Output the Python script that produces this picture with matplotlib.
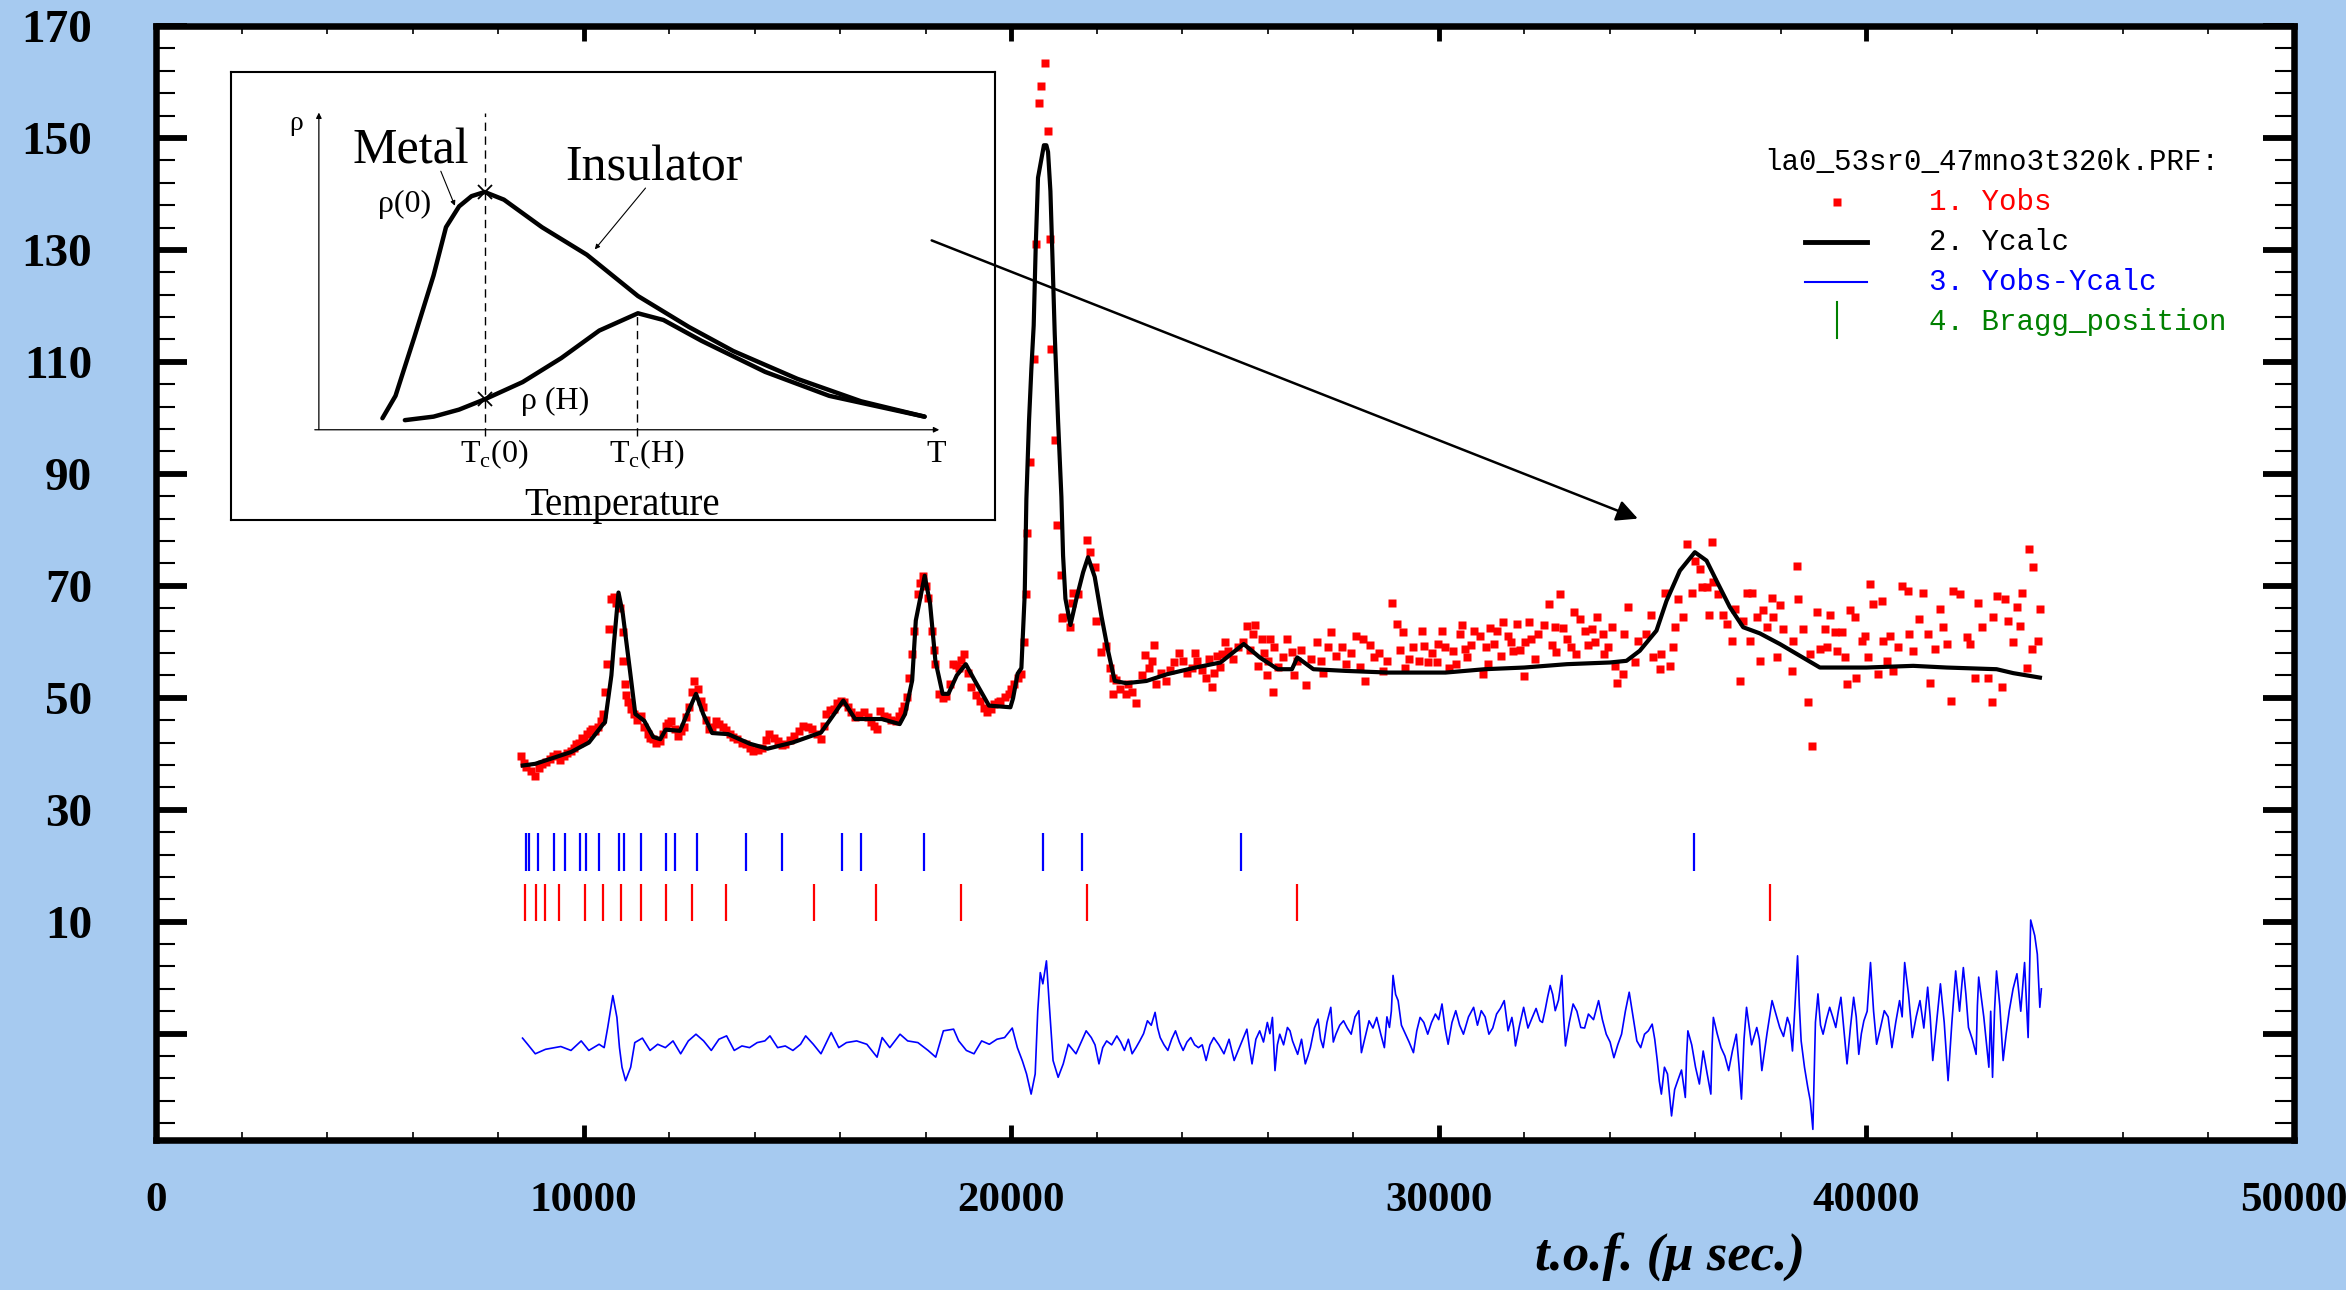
import matplotlib.pyplot as plt
from matplotlib.lines import Line2D

plt.rcParams['font.family'] = ['Liberation Serif', 'DejaVu Serif']
plt.rcParams['mathtext.fontset'] = 'custom'
plt.rcParams['mathtext.rm'] = 'Liberation Serif'

W, H, DPI = 2346, 1290, 100
BG = '#A6CAF0'

# ---- observed points (t.o.f., counts) ----
obs_tof = [8536, 8662, 8871, 9038, 9205, 9372, 9539, 9706, 9831, 9957, 10082, 10207,
           10333, 10458, 10500, 10541, 10583, 10642, 10700, 10917, 10930, 10959, 11043,
           11168, 11335, 11502, 11627, 11794, 11920, 12045, 12212, 12338, 12463, 12588,
           12672, 12797, 12923, 13090, 13257, 13424, 13591, 13800, 13967, 14176, 14343,
           14552, 14719, 14928, 15137, 15346, 15554, 15680, 15847, 16014, 16181, 16348,
           16557, 16724, 16850, 16933, 17101, 17309, 17435, 17560, 17684, 17727, 17810,
           17936, 18061, 18145, 18228, 18311, 18480, 18646, 18771, 18897, 19064, 19273,
           19440, 19607, 19733, 19941, 20069, 20236, 20292, 20339, 20379, 20433, 20526,
           20573, 20650, 20706, 20799, 20862, 20896, 20940, 21018, 21080, 21158, 21197,
           21219, 21386, 21420, 21452, 21563, 21762, 21845, 21970, 21990, 22096, 22221,
           22305, 22372, 22388, 22460, 22681, 22723, 22929, 23123, 23224, 23349, 23391,
           23630, 23809, 24014, 24226, 24352, 24561, 24686, 24811, 24937, 25062, 25312,
           25521, 25647, 25772, 25856, 25981, 26064, 26120, 26148, 26357, 26566, 26691,
           26900, 27150, 27234, 27485, 27736, 27819, 28069, 28237, 28279, 28487, 28697,
           28905, 29031, 29156, 29198, 29406, 29532, 29657, 29740, 29950, 29991, 30075,
           30242, 30326, 30493, 30618, 30660, 30827, 30952, 31036, 31161, 31287, 31370,
           31496, 31621, 31746, 31830, 31997, 32010, 32164, 32331, 32582, 32707, 32749,
           32833, 33000, 33168, 33208, 33416, 33582, 33709, 33835, 33860, 34039, 34117,
           34156, 34312, 34330, 34429, 34585, 34662, 34857, 34974, 35013, 35169, 35208,
           35286, 35403, 35481, 35520, 35598, 35715, 35793, 35910, 35988, 36105, 36144,
           36261, 36315, 36378, 36417, 36534, 36651, 36729, 36846, 36924, 37041, 37119,
           37197, 37275, 37313, 37430, 37508, 37586, 37664, 37781, 37820, 37898, 37976,
           38054, 38249, 38288, 38366, 38405, 38522, 38623, 38678, 38717, 38834, 38912,
           39029, 39068, 39146, 39263, 39302, 39419, 39497, 39536, 39614, 39731, 39750,
           39887, 39964, 40042, 40081, 40159, 40276, 40354, 40393, 40471, 40549, 40627,
           40744, 40822, 40978, 40990, 41095, 41235, 41329, 41446, 41485, 41602, 41719,
           41797, 41875, 41969, 42031, 42187, 42343, 42421, 42538, 42616, 42694, 42850,
           42928, 42967, 43044, 43161, 43239, 43317, 43434, 43512, 43590, 43629, 43746,
           43809, 43863, 43902, 44019, 44058]
obs_y = [39.6, 37.6, 36.0, 38.1, 39.0, 39.9, 39.6, 40.5, 41.7, 42.9, 43.5, 44.4,
         44.8, 47.1, 51.0, 56.0, 62.3, 67.6, 68.0, 61.7, 56.6, 52.4, 49.2,
         47.1, 46.8, 43.5, 42.6, 42.3, 45.0, 45.9, 43.2, 44.7, 48.3, 53.0,
         51.6, 48.3, 44.4, 45.9, 44.7, 43.5, 42.6, 41.7, 40.5, 41.1, 43.5,
         42.3, 41.7, 43.2, 45.0, 44.4, 42.6, 47.1, 48.0, 49.5, 48.3, 46.5,
         47.4, 45.6, 44.4, 47.7, 46.5, 45.9, 47.7, 50.1, 57.8, 62.0, 68.5,
         71.8, 67.9, 62.0, 56.0, 50.7, 50.4, 56.0, 55.4, 57.8, 51.9, 49.5,
         47.4, 48.9, 49.5, 50.7, 52.4, 54.2, 60.0, 68.5, 79.5, 92.1, 110.5,
         131.1, 156.2, 159.3, 163.4, 151.2, 132.0, 112.3, 96.0, 80.9, 72.0, 64.2,
         64.4, 62.6, 67.0, 68.8, 68.5, 78.1, 76.0, 73.3, 63.8, 58.1, 59.3,
         55.4, 50.7, 53.6, 53.2, 50.7, 52.4, 49.1, 57.6, 55.4, 59.5, 52.4,
         53.0, 56.3, 56.6, 55.4, 56.6, 53.6, 51.9, 57.5, 57.8, 58.4, 59.0,
         62.9, 61.4, 55.7, 60.5, 54.0, 60.5, 51.0, 59.0, 57.2, 58.1, 56.6,
         52.2, 59.9, 56.6, 61.7, 59.0, 56.0, 61.1, 60.5, 53.0, 57.2, 54.8,
         67.0, 63.2, 61.7, 55.4, 59.0, 56.6, 59.3, 56.3, 56.3, 59.6, 62.0,
         55.4, 58.4, 61.4, 58.7, 57.2, 62.0, 61.1, 54.2, 56.0, 59.6, 62.0,
         63.5, 61.1, 58.4, 63.2, 53.9, 59.9, 60.5, 61.4, 66.8, 62.6, 58.1,
         68.5, 60.5, 65.3, 57.8, 62.0, 62.3, 64.4, 61.4, 57.8, 62.6, 55.7,
         52.7, 54.2, 61.4, 66.2, 56.3, 60.2, 61.4, 64.7, 57.2, 55.1, 57.8,
         68.8, 55.7, 59.0, 62.6, 67.6, 64.4, 77.5, 68.8, 74.5, 73.0, 69.7,
         69.7, 64.7, 77.8, 70.6, 68.5, 64.7, 63.2, 60.2, 65.9, 53.0, 63.8,
         68.8, 60.2, 68.8, 64.4, 56.6, 65.6, 62.6, 67.9, 64.4, 57.2, 66.5,
         62.3, 54.8, 60.2, 73.6, 67.6, 62.3, 49.2, 57.8, 41.4, 65.3, 58.7,
         62.3, 59.0, 64.7, 61.7, 58.4, 61.7, 57.2, 52.4, 65.6, 64.4, 53.6,
         60.2, 61.1, 57.2, 70.3, 66.7, 54.2, 67.3, 60.2, 56.6, 61.1, 54.8,
         59.0, 70.0, 69.1, 61.4, 58.4, 64.1, 68.8, 61.4, 52.7, 58.7, 65.9,
         62.6, 59.6, 49.5, 69.1, 68.5, 60.8, 59.6, 53.6, 67.0, 62.6, 53.6,
         49.2, 64.4, 68.2, 51.9, 67.6, 63.8, 59.9, 66.2, 62.9, 68.8, 55.4,
         76.6, 58.7, 73.3, 60.2, 65.9]

obs_tof_extra = [8600, 8760, 8950, 9120, 9290, 9450, 9620, 9770, 9890, 10020, 10140,
                 10270, 10400, 10760, 10850, 11000, 11100, 11250, 11420, 11560, 11700,
                 11860, 11980, 12130, 12280, 12400, 12530, 12740, 12860, 13000, 13170,
                 13340, 13500, 13700, 13880, 14070, 14260, 14450, 14630, 14820, 15040,
                 15240, 15450, 15620, 15760, 15930, 16100, 16260, 16450, 16640, 16790,
                 17020, 17200, 17380, 17500, 17620, 17870, 18000, 18190, 18400, 18560,
                 18700, 18830, 18980, 19170, 19360, 19520, 19680, 19850, 20000, 20150,
                 22550, 22820, 23050, 23300, 23500, 23720, 23920, 24120, 24300, 24460,
                 24620, 24750, 24880, 25000, 25180, 25420, 25580, 25700, 25920, 26000,
                 26250, 26450, 26620, 26780, 27000, 27300, 27400, 27600, 27950, 28150,
                 28380, 28600, 28800, 29100, 29300, 29600, 29850, 30150, 30400, 30550,
                 30750, 31100, 31200, 31450, 31700, 31900, 32100, 32250, 32450, 32650,
                 32900, 33100, 33300, 33500, 33650, 33950]
obs_y_extra = [38.3, 37.0, 37.4, 38.6, 39.6, 38.8, 40.2, 41.0, 42.0, 42.6, 44.0,
               44.0, 45.9, 67.0, 66.0, 50.5, 48.0, 46.0, 44.8, 42.8, 42.0,
               43.6, 45.5, 44.5, 44.0, 46.5, 51.0, 49.5, 46.0, 44.8, 45.3,
               44.2, 43.0, 42.0, 41.0, 40.6, 42.5, 42.9, 41.5, 42.5, 44.0,
               44.8, 43.5, 45.0, 47.8, 49.0, 49.2, 47.5, 47.0, 46.6, 45.0,
               46.8, 46.0, 46.8, 48.5, 53.5, 70.5, 70.0, 58.5, 50.0, 52.5,
               55.8, 56.8, 54.5, 50.5, 48.2, 48.0, 49.2, 50.2, 51.5, 53.5,
               51.5, 51.0, 54.0, 56.5, 54.5, 55.0, 58.0, 54.5, 58.0, 55.0,
               57.0, 54.5, 55.5, 60.0, 57.0, 60.0, 58.5, 63.0, 58.0, 56.5,
               55.5, 60.5, 54.0, 58.5, 57.0, 54.5, 59.0, 57.5, 58.0, 55.5,
               59.5, 58.0, 56.5, 58.5, 57.0, 62.0, 58.0, 59.0, 56.0, 63.0,
               59.5, 59.0, 62.5, 57.5, 60.0, 58.5, 63.5, 57.0, 63.0, 59.5,
               62.5, 59.0, 64.0, 59.5, 60.0, 59.0]

# ---- calculated profile ----
calc_tof = [8578, 8870, 9705, 10124, 10458, 10500, 10650, 10708, 10816, 10917, 11085,
            11209, 11417, 11627, 11794, 11920, 12255, 12421, 12629, 12797, 13006, 13382,
            13883, 14302, 14887, 15554, 15888, 16073, 16349, 16973, 17392, 17518, 17684,
            17769, 17977, 18103, 18227, 18396, 18530, 18728, 18938, 19146, 19480, 19981,
            20043, 20150, 20238, 20316, 20355, 20417, 20472, 20526, 20573, 20627, 20765,
            20823, 20862, 20917, 20964, 21018, 21096, 21174, 21213, 21268, 21385, 21525,
            21681, 21797, 21953, 22110, 22265, 22421, 22695, 23163, 23642, 24310, 24895,
            25438, 25814, 26232, 26566, 26691, 27067, 27819, 28822, 30158, 31077, 31997,
            32999, 34001, 34390, 34701, 35091, 35325, 35637, 35988, 36261, 36495, 36806,
            37118, 37508, 37976, 38444, 38912, 40003, 41095, 41875, 43044, 43434, 44058]
calc_y = [37.9, 38.2, 40.3, 42.0, 45.3, 45.6, 54.0, 59.6, 68.8, 65.0, 54.8,
          47.1, 45.9, 43.0, 42.6, 44.3, 44.1, 47.1, 50.7, 47.1, 43.7, 43.5,
          41.8, 40.9, 42.0, 43.8, 47.4, 49.5, 46.2, 46.2, 45.3, 47.1, 53.1,
          63.8, 71.8, 66.8, 56.6, 50.7, 50.7, 54.0, 56.0, 53.1, 48.6, 48.3,
          49.9, 54.3, 55.3, 68.5, 85.5, 99.5, 108.8, 116.5, 130.5, 142.9, 148.7,
          148.7, 147.5, 140.5, 128.9, 115.0, 99.5, 85.9, 75.4, 67.7, 63.0, 67.7,
          72.4, 75.1, 71.6, 64.6, 58.4, 53.0, 52.6, 53.0, 54.2, 55.4, 56.3,
          59.6, 57.2, 55.1, 55.1, 57.2, 55.1, 54.8, 54.5, 54.5, 55.1, 55.4,
          56.0, 56.3, 56.6, 58.4, 62.0, 67.3, 72.7, 76.0, 74.5, 70.9, 66.2,
          62.6, 61.5, 59.6, 57.5, 55.4, 55.4, 55.7, 55.4, 55.1, 54.4, 53.6]

# ---- Yobs - Ycalc (shifted) ----
diff_tof = [8572, 8691, 8870, 9109, 9467, 9705, 9944, 10123, 10362, 10481, 10564, 10684,
            10779, 10839, 10898, 10982, 11101, 11197, 11375, 11554, 11733, 11912, 12091,
            12270, 12449, 12628, 12807, 12986, 13165, 13344, 13523, 13702, 13881, 14060,
            14239, 14358, 14537, 14716, 14895, 15074, 15193, 15372, 15551, 15790, 15968,
            16147, 16386, 16624, 16863, 16982, 17161, 17400, 17579, 17818, 18056, 18235,
            18414, 18653, 18772, 18951, 19130, 19309, 19488, 19667, 19846, 20025, 20144,
            20263, 20359, 20466, 20561, 20621, 20680, 20740, 20824, 20895, 20979, 21098,
            21217, 21336, 21515, 21753, 21873, 22053, 22232, 22470, 22649, 22828, 23007,
            23186, 23365, 23484, 23663, 23842, 24021, 24200, 24379, 24558, 24737, 24976,
            25214, 25512, 25632, 25811, 25990, 26109, 26169, 26281, 26460, 26579, 26699,
            26878, 26997, 27176, 27296, 27474, 27593, 27772, 27951, 28130, 28190, 28369,
            28548, 28727, 28846, 28930, 29049, 29204, 29407, 29562, 29741, 29920, 30075,
            30218, 30397, 30576, 30814, 30993, 31172, 31351, 31530, 31709, 31793, 31984,
            32186, 32365, 32484, 32604, 32723, 32878, 32962, 33141, 33320, 33499, 33737,
            33916, 34095, 34274, 34453, 34632, 34811, 34990, 35109, 35205, 35348, 35443,
            35587, 35765, 35825, 36004, 36183, 36362, 36421, 36600, 36779, 36958, 37078,
            37197, 37436, 37555, 37794, 37973, 38152, 38271, 38390, 38474, 38629, 38748,
            38867, 38987, 39141, 39284, 39404, 39547, 39702, 39822, 39941, 40096, 40239,
            40418, 40597, 40776, 40895, 41074, 41253, 41433, 41552, 41731, 41910, 42088,
            42267, 42387, 42566, 42626, 42864, 42950, 43043, 43198, 43341, 43520, 43699,
            43782, 43842, 43937, 43997, 44056, 44092]
diff_y = [-10.8, -11.9, -13.6, -12.8, -12.3, -13.0, -11.3, -13.0, -11.9, -12.5, -8.9, -3.2,
          -7.1, -12.5, -16.0, -18.4, -16.0, -11.6, -10.8, -13.0, -11.9, -12.5, -11.3,
          -13.6, -11.3, -10.1, -11.3, -13.0, -11.0, -10.4, -13.0, -12.2, -12.5, -11.6,
          -11.3, -10.4, -12.5, -12.2, -13.0, -11.9, -10.4, -11.9, -13.6, -9.8, -12.5,
          -11.6, -11.3, -11.9, -14.2, -10.7, -12.5, -10.1, -11.3, -11.6, -13.0, -14.2,
          -9.5, -9.2, -11.3, -13.0, -13.6, -11.3, -11.9, -11.0, -10.7, -9.0, -12.5,
          -14.9, -17.2, -20.8, -17.2, -5.9, 0.9, -1.1, 3.0, -5.3, -14.8, -17.8,
          -15.4, -11.9, -13.6, -9.5, -10.7, -15.4, -11.3, -10.4, -13.0, -13.6, -11.3,
          -7.7, -6.2, -10.7, -13.0, -9.5, -13.0, -10.7, -12.5, -14.8, -10.7, -13.6,
          -14.8, -9.2, -15.4, -9.5, -8.0, -7.1, -16.6, -10.1, -8.9, -11.3, -13.7,
          -15.4, -12.5, -7.4, -12.5, -5.3, -10.1, -7.7, -10.1, -5.9, -13.4, -7.7,
          -7.1, -12.5, -8.9, 0.4, -4.1, -9.8, -13.4, -7.1, -10.1, -6.5, -4.7,
          -11.9, -5.9, -10.1, -5.3, -5.9, -10.1, -6.5, -4.1, -7.1, -12.2, -5.3,
          -7.1, -7.7, -5.9, -1.4, -5.9, 0.4, -12.2, -4.7, -8.9, -6.5, -4.1,
          -10.1, -14.3, -10.1, -2.6, -11.3, -10.1, -8.3, -14.8, -20.8, -17.2, -24.7,
          -18.4, -21.4, -9.5, -16.0, -13.1, -20.8, -7.1, -12.5, -16.6, -10.1, -21.7,
          -5.3, -8.9, -16.6, -4.1, -8.9, -7.1, -13.1, 3.9, -11.3, -19.6, -27.1,
          -2.9, -10.1, -5.3, -8.9, -3.5, -15.4, -3.5, -13.7, -7.7, 2.7, -11.9,
          -5.9, -12.5, -4.1, 2.7, -10.7, -4.1, -1.7, -14.8, -1.1, -18.4, 1.2,
          1.8, -8.9, -13.7, 0.1, -16.0, -17.8, 1.2, -14.8, -5.9, 0.7, 2.7,
          -10.7, 10.3, 7.5, 4.2, -5.3, -2.0]

# extra difference points read between the ones above (dense right-hand part)
diff_tof_extra = [21960, 22140, 22350, 22560, 22740, 22918, 23096, 23275, 23425, 23574,
                  23752, 23932, 24110, 24290, 24468, 24648, 24856, 25095, 25363, 25572,
                  25722, 25900, 26050, 26225, 26370, 26520, 26640, 26790, 26940, 27090,
                  27236, 27385, 27533, 27683, 27860, 28040, 28160, 28280, 28460, 28640,
                  28787, 28890, 28990, 29126, 29305, 29485, 29650, 29830, 29998, 30147,
                  30308, 30487, 30695, 30904, 31083, 31262, 31440, 31620, 31750, 31889,
                  32085, 32275, 32424, 32544, 32664, 32800, 32920, 33052, 33230, 33410,
                  33618, 33826, 34006, 34185, 34363, 34543, 34722, 34900, 35050, 35157,
                  35277, 35396, 35515, 35676, 35795, 35915, 36094, 36272, 36392, 36510,
                  36690, 36869, 37018, 37138, 37316, 37496, 37675, 37884, 38062, 38212,
                  38330, 38432, 38552, 38688, 38808, 38927, 39064, 39212, 39344, 39476,
                  39625, 39762, 39882, 40018, 40168, 40328, 40508, 40686, 40836, 40985,
                  41164, 41343, 41492, 41642, 41820, 41999, 42178, 42327, 42477, 42596,
                  42745, 42907, 42996, 43120, 43270, 43430, 43610, 43740]
diff_y_extra = [-12.0, -12.5, -12.0, -11.5, -11.0, -12.5, -10.0, -8.5, -9.0, -12.0,
                -11.0, -11.5, -11.5, -12.0, -12.0, -12.0, -12.0, -11.0, -12.0, -12.5,
                -11.0, -11.5, -10.0, -12.0, -12.0, -9.5, -12.5, -11.0, -14.0, -9.0,
                -11.0, -8.0, -11.5, -8.5, -9.0, -7.0, -9.5, -10.5, -9.0, -10.0,
                -7.0, -6.0, -3.0, -8.5, -11.5, -9.5, -8.0, -8.0, -7.5, -9.0,
                -8.0, -8.5, -7.0, -8.5, -7.0, -9.0, -5.5, -9.5, -9.0, -8.5,
                -9.0, -5.5, -8.0, -3.5, -3.0, -4.0, -7.0, -8.0, -6.0, -9.0,
                -7.5, -7.5, -11.5, -12.0, -6.0, -7.0, -12.5, -9.5, -11.0, -18.5,
                -16.0, -21.0, -20.0, -16.5, -14.0, -12.0, -19.0, -17.0, -12.0, -10.0,
                -14.0, -13.0, -15.5, -11.0, -12.0, -11.0, -10.0, -6.5, -10.5, -8.5,
                -5.0, -5.0, -16.0, -22.0, -8.0, -8.5, -7.5, -7.0, -6.0, -9.5,
                -9.0, -7.0, -10.0, -6.0, -6.0, -9.0, -7.0, -8.0, -7.0, -3.0,
                -7.0, -9.0, -7.0, -8.0, -8.0, -8.0, -6.0, -3.0, -11.0, -5.0,
                -7.0, -6.0, -6.0, -5.0, -10.0, -2.0, -6.0, -4.0]

# ---- Bragg reflections of the two phases ----
bragg_blue = [8660, 8720, 8931, 9305, 9572, 9923, 10047, 10351, 10819, 10936, 11350,
              11918, 12129, 12660, 13806, 14648, 16051, 16480, 17953, 20732, 21663,
              25385, 35972]
bragg_red = [8620, 8877, 9088, 9415, 10040, 10461, 10882, 11350, 11918, 12542, 13338,
             15380, 16847, 18835, 21782, 26685, 37738]

# ---- axis ticks ----
xtick_major = [0, 10000, 20000, 30000, 40000, 50000]
xtick_labels = ['0', '10000', '20000', '30000', '40000', '50000']
xtick_minor = [v for v in range(2000, 50000, 2000) if v % 10000]
ytick_major = [-10, 10, 30, 50, 70, 90, 110, 130, 150, 170]
ytick_labels = ['', '10', '30', '50', '70', '90', '110', '130', '150', '170']
ytick_minor = [v for v in range(-26, 170, 4) if (v + 10) % 20]

# ---- inset sketch: resistivity vs temperature ----
metal_T = [1.02, 1.23, 1.53, 1.84, 2.04, 2.25, 2.45, 2.66, 2.97, 3.58, 4.30, 5.12,
           5.94, 6.65, 7.68, 8.70, 9.72]
metal_rho = [0.36, 1.06, 2.88, 4.82, 6.33, 6.98, 7.30, 7.43, 7.19, 6.33, 5.47, 4.18,
             3.21, 2.46, 1.59, 0.89, 0.41]
field_T = [1.38, 1.84, 2.25, 2.66, 3.27, 3.89, 4.50, 5.12, 5.53, 6.14, 7.16, 8.19, 9.72]
field_rho = [0.30, 0.41, 0.63, 0.95, 1.49, 2.24, 3.10, 3.64, 3.43, 2.78, 1.81, 1.06, 0.41]
tc_T = [2.66, 5.10]
tc_top = [9.9, 3.64]
cross_T = [2.66, 2.66]
cross_rho = [7.43, 0.95]

obs = sorted(zip(obs_tof + obs_tof_extra, obs_y + obs_y_extra))
diff = sorted(zip(diff_tof + diff_tof_extra, diff_y + diff_y_extra))

fig = plt.figure(figsize=(W / DPI, H / DPI), dpi=DPI, facecolor=BG)
ax = fig.add_axes([156 / W, 1 - 1140 / H, (2294 - 156) / W, (1140 - 26) / H])
ax.set_facecolor('white')
ax.set_xlim(0, 50000)
ax.set_ylim(-29, 170)

ax.plot([p[0] for p in obs], [p[1] for p in obs], 's', color='red', ms=5.8, mec='none',
        zorder=2)
ax.plot(calc_tof, calc_y, color='black', lw=3, zorder=3)
ax.plot([p[0] for p in diff], [p[1] for p in diff], color='blue', lw=1.2, zorder=3)
ax.vlines(bragg_blue, 19.0, 25.9, color='blue', lw=1.6)
ax.vlines(bragg_red, 10.1, 16.7, color='red', lw=1.6)

ax.set_xticks(xtick_major, xtick_labels, fontsize=31, fontweight='bold')
ax.set_xticks(xtick_minor, minor=True)
ax.set_yticks(ytick_major, ytick_labels, fontsize=34, fontweight='bold')
ax.set_yticks(ytick_minor, minor=True)
ax.tick_params(axis='x', which='major', direction='in', top=True, length=11, width=3.5, pad=30)
ax.tick_params(axis='x', which='minor', direction='in', top=True, length=6, width=1.2)
ax.tick_params(axis='y', which='major', direction='in', right=True, length=22, width=4.2, pad=46)
ax.tick_params(axis='y', which='minor', direction='in', right=True, length=14, width=1.5)
for s in ax.spines.values():
    s.set_linewidth(4.7)

fig.text(1670 / W, 1 - 1257 / H, 't.o.f. (\u03bc sec.)', fontsize=38, style='italic',
         fontweight='bold', ha='center', va='center')

# legend block
fig.text(1764 / W, 1 - 162 / H, 'la0_53sr0_47mno3t320k.PRF:', family='Liberation Mono',
         fontsize=21, va='center')
leg_items = [('1. Yobs', 'red'), ('2. Ycalc', 'black'), ('3. Yobs-Ycalc', 'blue'),
             ('4. Bragg_position', 'green')]
for i, (lab, col) in enumerate(leg_items):
    yy = 1 - (202 + 40 * i) / H
    fig.text(1929 / W, yy, lab, family='Liberation Mono', fontsize=21, color=col, va='center')
fig.add_artist(Line2D([1837 / W], [1 - 202 / H], marker='s', ms=5.8, color='red', mec='none'))
fig.add_artist(Line2D([1805 / W, 1867 / W], [1 - 242 / H] * 2, color='black', lw=3.5))
fig.add_artist(Line2D([1805 / W, 1867 / W], [1 - 282 / H] * 2, color='blue', lw=1.5))
fig.add_artist(Line2D([1837 / W] * 2, [1 - 302 / H, 1 - 338 / H], color='green', lw=1.5))

# inset
axins = fig.add_axes([231 / W, 1 - 520 / H, (995 - 231) / W, (520 - 72) / H])
axins.set_facecolor('white')
axins.set_xlim(-1.41, 10.85)
axins.set_ylim(-2.82, 11.18)
axins.set_xticks([])
axins.set_yticks([])
for s in axins.spines.values():
    s.set_linewidth(1.5)

axins.annotate('', xy=(0, 10.0), xytext=(0, -0.08),
               arrowprops=dict(arrowstyle='-|>', lw=0.9, color='black', mutation_scale=8))
axins.annotate('', xy=(10.0, 0), xytext=(-0.11, 0),
               arrowprops=dict(arrowstyle='-|>', lw=0.9, color='black', mutation_scale=8))
axins.plot(metal_T, metal_rho, color='black', lw=3.2, solid_capstyle='round')
axins.plot(field_T, field_rho, color='black', lw=3.2, solid_capstyle='round')
for t, top in zip(tc_T, tc_top):
    axins.plot([t, t], [-0.18, top], color='black', lw=1, dashes=(6, 4))
axins.plot(cross_T, cross_rho, 'x', color='black', ms=10, mew=1.3)

axins.text(-0.36, 9.56, '\u03c1', fontsize=20, ha='center', va='center')
axins.text(1.48, 8.70, 'Metal', fontsize=36, ha='center', va='center')
axins.text(5.37, 8.16, 'Insulator', fontsize=36, ha='center', va='center')
axins.text(1.38, 7.03, '\u03c1(0)', fontsize=23, ha='center', va='center')
axins.text(3.79, 0.90, '\u03c1 (H)', fontsize=23, ha='center', va='center')
axins.text(2.81, -0.77, r'T$_{\mathregular{c}}$(0)', fontsize=23, ha='center', va='center')
axins.text(5.27, -0.77, r'T$_{\mathregular{c}}$(H)', fontsize=23, ha='center', va='center')
axins.text(9.90, -0.77, 'T', fontsize=23, ha='center', va='center')
axins.text(4.86, -2.38, 'Temperature', fontsize=28, ha='center', va='center')
axins.annotate('', xy=(2.20, 6.92), xytext=(1.94, 8.16),
               arrowprops=dict(arrowstyle='-|>', lw=0.8, color='black', mutation_scale=7))
axins.annotate('', xy=(4.40, 5.57), xytext=(5.27, 7.62),
               arrowprops=dict(arrowstyle='-|>', lw=0.8, color='black', mutation_scale=7))

# pointer from the sketch to the 36000 peak
axins.annotate('', xy=(34655, 82.0), xycoords=ax.transData,
               xytext=(18140, 131.7), textcoords=ax.transData, annotation_clip=False,
               arrowprops=dict(arrowstyle='-|>', lw=1.8, color='black', mutation_scale=32,
                               shrinkA=0, shrinkB=0))

fig.savefig('out.png', dpi=DPI, facecolor=BG)
